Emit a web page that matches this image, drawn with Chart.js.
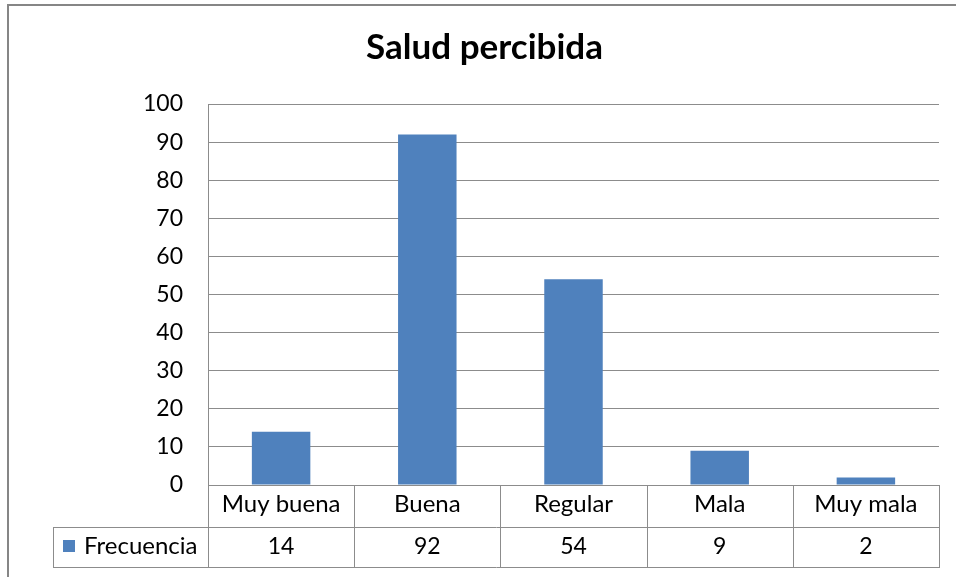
<!DOCTYPE html>
<html>
<head>
<meta charset="utf-8">
<script src="https://cdn.jsdelivr.net/npm/chart.js@4.4.1/dist/chart.umd.min.js"></script>
<style>
html,body{margin:0;padding:0;background:#fff;}
#wrap{width:956px;height:577px;position:relative;}
canvas{display:block;}
</style>
</head>
<body>
<div id="wrap"><canvas id="c" width="956" height="577"></canvas></div>
<script>
// ---- data ----
const chartTitle = 'Salud percibida';
const categories = ['Muy buena', 'Buena', 'Regular', 'Mala', 'Muy mala'];
const seriesName = 'Frecuencia';
const frecuencia = [14, 92, 54, 9, 2];
const yMin = 0;
const yMax = 100;
const yStep = 10;

// ---- style ----
const BAR = '#4F81BD';
const LINE = '#8c8c8c';
const FONT = 'Lato, "Open Sans", sans-serif';
const PAD_LEFT = 30;

const framePlugin = {
  id: 'frame',
  beforeDraw(chart) {
    const ctx = chart.ctx;
    ctx.save();
    ctx.fillStyle = '#fff';
    ctx.fillRect(0, 0, chart.width, chart.height);
    ctx.fillStyle = '#868686';
    ctx.fillRect(7, 4, chart.width - 7, 2);
    ctx.fillRect(7, 4, 2, chart.height - 4);
    ctx.restore();
  }
};

const tablePlugin = {
  id: 'dataTable',
  afterDraw(chart) {
    const ctx = chart.ctx;
    const xs = chart.scales.x;
    const area = chart.chartArea;
    const n = categories.length;
    const half = (xs.getPixelForValue(1) - xs.getPixelForValue(0)) / 2;
    const edges = [];
    for (let i = 0; i < n; i++) edges.push(xs.getPixelForValue(i) - half);
    edges.push(xs.getPixelForValue(n - 1) + half);
    const top = Math.round(area.bottom);
    const mid = top + 42;
    const bot = top + 82;
    const legLeft = 53;
    const L = Math.round(edges[0]);
    const R = Math.round(edges[n]);
    const p = v => Math.round(v) + 0.5;

    ctx.save();
    ctx.strokeStyle = LINE;
    ctx.lineWidth = 1;
    ctx.beginPath();
    ctx.moveTo(L, p(top)); ctx.lineTo(R + 1, p(top));
    ctx.moveTo(legLeft, p(mid)); ctx.lineTo(R + 1, p(mid));
    ctx.moveTo(legLeft, p(bot)); ctx.lineTo(R + 1, p(bot));
    edges.forEach(e => { ctx.moveTo(p(e), top); ctx.lineTo(p(e), bot + 1); });
    ctx.moveTo(p(legLeft), mid); ctx.lineTo(p(legLeft), bot + 1);
    ctx.stroke();

    ctx.fillStyle = '#000';
    ctx.textAlign = 'center';
    ctx.textBaseline = 'middle';
    for (let i = 0; i < n; i++) {
      const cx = (edges[i] + edges[i + 1]) / 2;
      ctx.font = '24px ' + FONT;
      ctx.fillText(categories[i], cx, top + 19);
      ctx.font = '23px ' + FONT;
      ctx.fillText(String(frecuencia[i]), cx, mid + 19.5);
    }
    ctx.fillStyle = chart.data.datasets[0].backgroundColor;
    ctx.fillRect(63, mid + 13, 12, 12);
    ctx.fillStyle = '#000';
    ctx.textAlign = 'left';
    ctx.font = '24px ' + FONT;
    ctx.fillText(seriesName, 84, mid + 19.5);
    ctx.restore();
  }
};

new Chart(document.getElementById('c'), {
  type: 'bar',
  data: {
    labels: categories,
    datasets: [{
      label: seriesName,
      data: frecuencia,
      backgroundColor: BAR,
      borderWidth: 0,
      barPercentage: 0.4,
      categoryPercentage: 1.0
    }]
  },
  options: {
    responsive: false,
    animation: false,
    events: [],
    layout: { padding: { left: PAD_LEFT, right: 17, top: 0, bottom: 92 } },
    plugins: {
      legend: { display: false },
      tooltip: { enabled: false },
      title: {
        display: true,
        text: chartTitle,
        color: '#000',
        font: { family: FONT, size: 35, weight: 'bold', lineHeight: 1.2 },
        padding: { top: 27, bottom: 35 }
      }
    },
    scales: {
      x: { display: false },
      y: {
        min: yMin,
        max: yMax,
        afterFit(scale) { scale.width = 208 - PAD_LEFT; },
        border: { display: true, color: LINE, width: 1 },
        grid: { color: LINE, lineWidth: 1, drawTicks: false },
        ticks: {
          stepSize: yStep,
          padding: 25,
          color: '#000',
          font: { family: FONT, size: 23 }
        }
      }
    }
  },
  plugins: [framePlugin, tablePlugin]
});
</script>
</body>
</html>
